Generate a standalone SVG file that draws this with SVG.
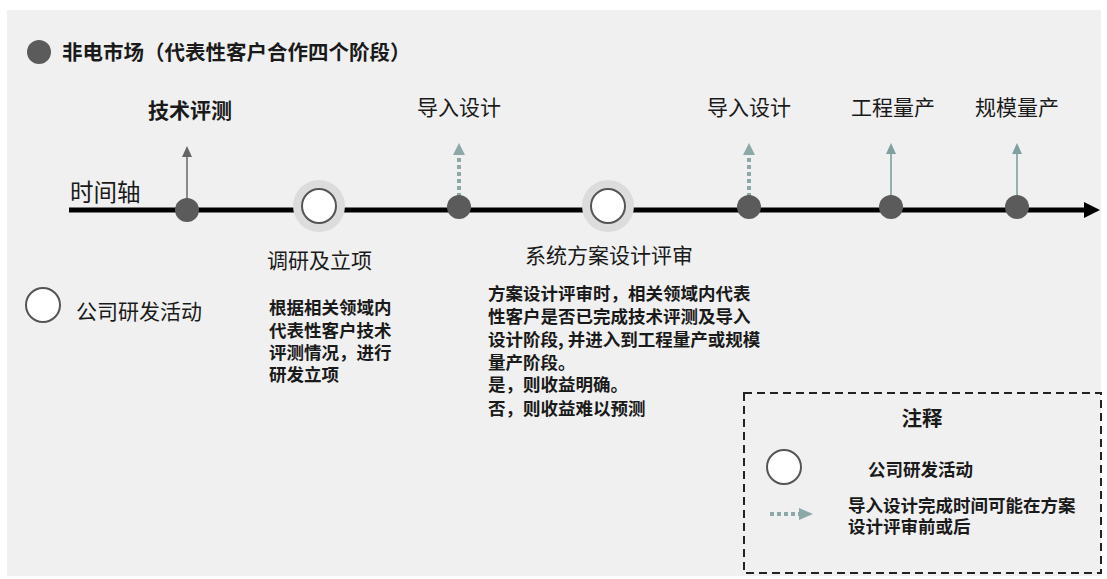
<svg xmlns="http://www.w3.org/2000/svg" width="1107" height="579" viewBox="0 0 1107 579">
  <style>
    text { font-family: "Noto Sans CJK SC", "Noto Sans", sans-serif; fill: #1a1a1a; }
    .title { font-size: 20.5px; font-weight: 700; }
    .stage { font-size: 21px; }
    .stageb { font-size: 21px; font-weight: 700; }
    .para { font-size: 17.5px; font-weight: 700; }
    .dot { fill: #5b5b5b; }
    .halo { fill: #dcdcdc; }
    .open { fill: #ffffff; stroke: #555555; stroke-width: 2; }
    .dash { stroke: #8da8a8; stroke-width: 4; stroke-dasharray: 4 3; fill: none; }
    .teal { stroke: #7fa0a0; stroke-width: 1.6; fill: none; }
    .tealhead { fill: #7fa0a0; }
    .dashhead { fill: #8da8a8; }
    .gray { stroke: #707070; stroke-width: 1.6; fill: none; }
    .grayhead { fill: #666666; }
  </style>
  <rect x="0" y="0" width="1107" height="579" fill="#ffffff"/>
  <rect x="7" y="10" width="1094" height="566" fill="#f0f0f0"/>

  <g id="title">
    <circle cx="39" cy="52" r="12" class="dot"/>
    <text x="62" y="60" class="title">非电市场（代表性客户合作四个阶段）</text>
  </g>

  <g id="connectors">
    <line x1="69" y1="210" x2="1088" y2="210" stroke="#000" stroke-width="5"/>
    <polygon points="1084,202 1100,210 1084,218" fill="#000"/>
    <line x1="187" y1="200" x2="187" y2="155" class="gray"/>
    <polygon points="182,157 187,146 192,157" class="grayhead"/>
    <line x1="459" y1="197" x2="459" y2="155" class="dash"/>
    <polygon points="453,155 459,143 465,155" class="dashhead"/>
    <line x1="749" y1="197" x2="749" y2="155" class="dash"/>
    <polygon points="743,155 749,143 755,155" class="dashhead"/>
    <line x1="891" y1="200" x2="891" y2="152" class="teal"/>
    <polygon points="886,154 891,143 896,154" class="tealhead"/>
    <line x1="1017" y1="200" x2="1017" y2="152" class="teal"/>
    <polygon points="1012,154 1017,143 1022,154" class="tealhead"/>
  </g>

  <g id="axis-label">
    <text x="70" y="201" font-size="23.5" fill="#333">时间轴</text>
  </g>

  <g id="n-jishupingce">
    <circle cx="187" cy="210" r="12" class="dot"/>
    <text x="190" y="118" class="stageb" text-anchor="middle">技术评测</text>
  </g>

  <g id="n-diaoyan">
    <circle cx="319" cy="206" r="26" class="halo"/>
    <circle cx="319" cy="206" r="17" class="open"/>
    <text x="267" y="268" class="stage">调研及立项</text>
    <text class="para">
      <tspan x="269" y="314">根据相关领域内</tspan>
      <tspan x="269" y="337">代表性客户技术</tspan>
      <tspan x="269" y="359">评测情况，进行</tspan>
      <tspan x="269" y="381">研发立项</tspan>
    </text>
  </g>

  <g id="n-daoru1">
    <circle cx="459" cy="207" r="12" class="dot"/>
    <text x="459" y="115" class="stage" text-anchor="middle">导入设计</text>
  </g>

  <g id="n-xitong">
    <circle cx="608" cy="206" r="26" class="halo"/>
    <circle cx="608" cy="206" r="17" class="open"/>
    <text x="525" y="263" class="stage">系统方案设计评审</text>
    <text class="para">
      <tspan x="488" y="300">方案设计评审时，相关领域内代表</tspan>
      <tspan x="488" y="323">性客户是否已完成技术评测及导入</tspan>
      <tspan x="488" y="346">设计阶段, 并进入到工程量产或规模</tspan>
      <tspan x="488" y="369">量产阶段。</tspan>
      <tspan x="488" y="391">是，则收益明确。</tspan>
      <tspan x="488" y="415">否，则收益难以预测</tspan>
    </text>
  </g>

  <g id="n-daoru2">
    <circle cx="749" cy="207" r="12" class="dot"/>
    <text x="749" y="115" class="stage" text-anchor="middle">导入设计</text>
  </g>

  <g id="n-gongcheng">
    <circle cx="891" cy="207" r="12" class="dot"/>
    <text x="893" y="115" class="stage" text-anchor="middle">工程量产</text>
  </g>

  <g id="n-guimo">
    <circle cx="1017" cy="207" r="12" class="dot"/>
    <text x="1017" y="115" class="stage" text-anchor="middle">规模量产</text>
  </g>

  <g id="left-legend">
    <circle cx="43" cy="305" r="17" class="open"/>
    <text x="76" y="319" class="stage">公司研发活动</text>
  </g>

  <g id="legend">
    <rect x="744" y="393" width="357" height="180" fill="none" stroke="#222" stroke-width="2" stroke-dasharray="8 5"/>
    <text x="922" y="426" class="title" text-anchor="middle">注释</text>
    <circle cx="784" cy="467" r="17" class="open"/>
    <text x="868" y="476" class="para">公司研发活动</text>
    <line x1="770" y1="514" x2="800" y2="514" class="dash" stroke-dasharray="5 3"/>
    <polygon points="799,508 813,514 799,520" class="dashhead"/>
    <text class="para">
      <tspan x="848" y="512">导入设计完成时间可能在方案</tspan>
      <tspan x="848" y="533">设计评审前或后</tspan>
    </text>
  </g>
</svg>
